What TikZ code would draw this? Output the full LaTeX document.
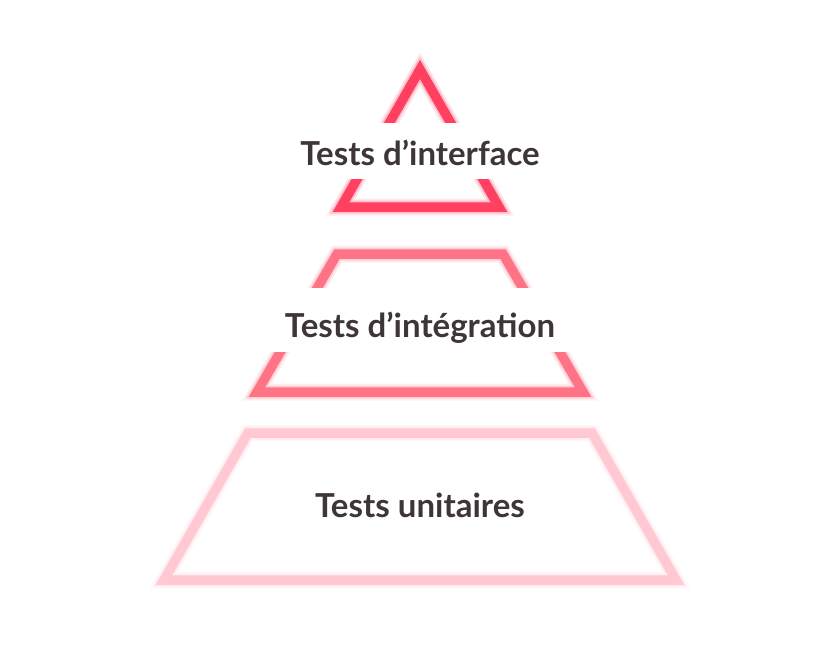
\documentclass[tikz,border=0pt]{standalone}
\usepackage{fontspec}
\setmainfont{Lato}
\definecolor{topred}{RGB}{255,64,96}
\definecolor{midred}{RGB}{255,115,135}
\definecolor{lowpink}{RGB}{255,200,210}
\definecolor{ink}{RGB}{62,54,54}
\tikzset{
 glow/.style={draw=#1,line width=17pt,opacity=0.12},
 halo/.style={draw=#1,line width=13pt,opacity=0.25},
 level/.style={draw=#1,line width=9.5pt},
 tag/.style={fill=white,text=ink,font=\fontsize{33}{33}\selectfont\bfseries,
   inner xsep=14pt,inner ysep=0pt,text depth=14pt,anchor=base}
}
\begin{document}
\begin{tikzpicture}[x=1pt,y=-1pt]
 \useasboundingbox (0,0) rectangle (840,650);
 % corners, top to bottom
 \coordinate (a1) at (420,69.5);
 \coordinate (a2) at (499,207);
 \coordinate (a3) at (341,207);
 \coordinate (b1) at (337,254);
 \coordinate (b2) at (503,254);
 \coordinate (b3) at (583,392);
 \coordinate (b4) at (257,392);
 \coordinate (c1) at (248,433);
 \coordinate (c2) at (592,433);
 \coordinate (c3) at (676,580);
 \coordinate (c4) at (164,580);

 \foreach \st in {glow,halo,level}{
  \draw[\st=topred] (a1) -- (a2) -- (a3) -- cycle;
  \draw[\st=midred] (b1) -- (b2) -- (b3) -- (b4) -- cycle;
  \draw[\st=lowpink] (c1) -- (c2) -- (c3) -- (c4) -- cycle;
 }

 \node[tag,text height=42pt] (iface) at (420,165) {Tests d’interface};
 \node[tag,text height=50pt] (integ) at (420,337.7) {Tests d’intégration};
 \node[tag,text height=40pt] (unit) at (420,517) {Tests unitaires};
\end{tikzpicture}
\end{document}
